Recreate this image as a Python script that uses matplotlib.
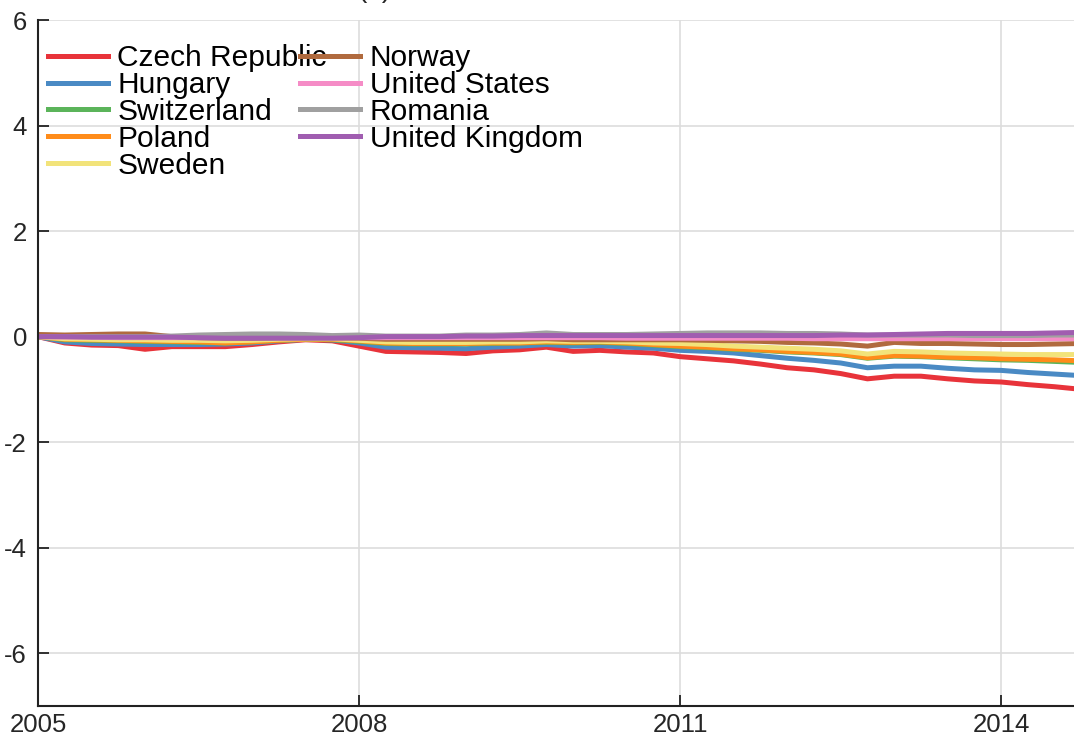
import numpy as np
import matplotlib
matplotlib.use("Agg")
import matplotlib.pyplot as plt

plt.rcParams['font.family'] = ['Liberation Sans', 'DejaVu Sans']

# quarterly observations, 2005Q1 ...
years = [2005 + 0.25 * i for i in range(40)]

czech = [0.0, -0.12, -0.16, -0.17, -0.24, -0.19, -0.19, -0.19, -0.15, -0.10,
         -0.06, -0.08, -0.18, -0.28, -0.29, -0.30, -0.32, -0.27, -0.25, -0.20,
         -0.28, -0.26, -0.29, -0.31, -0.38, -0.42, -0.46, -0.52, -0.59, -0.63,
         -0.70, -0.80, -0.75, -0.75, -0.80, -0.84, -0.86, -0.91, -0.95, -1.00]
hungary = [0.0, -0.10, -0.13, -0.14, -0.15, -0.15, -0.15, -0.14, -0.12, -0.08,
           -0.05, -0.06, -0.12, -0.20, -0.21, -0.22, -0.23, -0.20, -0.18, -0.15,
           -0.18, -0.17, -0.20, -0.22, -0.26, -0.28, -0.31, -0.36, -0.41, -0.45,
           -0.50, -0.59, -0.56, -0.56, -0.60, -0.63, -0.64, -0.68, -0.71, -0.74]
switzerland = [0.0, -0.06, -0.07, -0.08, -0.09, -0.10, -0.11, -0.12, -0.10, -0.07,
               -0.05, -0.06, -0.09, -0.13, -0.14, -0.14, -0.14, -0.13, -0.12, -0.11,
               -0.12, -0.11, -0.13, -0.16, -0.19, -0.21, -0.24, -0.26, -0.29, -0.31,
               -0.34, -0.41, -0.37, -0.38, -0.40, -0.42, -0.44, -0.45, -0.47, -0.49]
poland = [0.0, -0.05, -0.06, -0.07, -0.08, -0.09, -0.10, -0.12, -0.10, -0.07,
          -0.05, -0.05, -0.08, -0.12, -0.13, -0.13, -0.13, -0.12, -0.12, -0.10,
          -0.11, -0.10, -0.12, -0.15, -0.18, -0.20, -0.23, -0.25, -0.28, -0.30,
          -0.33, -0.40, -0.36, -0.37, -0.39, -0.40, -0.42, -0.43, -0.44, -0.46]
sweden = [0.0, -0.04, -0.05, -0.06, -0.06, -0.07, -0.07, -0.08, -0.07, -0.05,
          -0.04, -0.04, -0.07, -0.10, -0.11, -0.11, -0.11, -0.10, -0.10, -0.08,
          -0.09, -0.09, -0.10, -0.12, -0.13, -0.15, -0.18, -0.20, -0.22, -0.24,
          -0.27, -0.33, -0.28, -0.29, -0.31, -0.32, -0.33, -0.34, -0.34, -0.34]
norway = [0.04, 0.03, 0.04, 0.05, 0.05, 0.0, -0.02, -0.03, -0.03, -0.02,
          -0.02, -0.02, -0.03, -0.05, -0.05, -0.05, -0.05, -0.05, -0.05, -0.04,
          -0.06, -0.06, -0.06, -0.06, -0.06, -0.07, -0.08, -0.09, -0.11, -0.12,
          -0.14, -0.18, -0.11, -0.13, -0.13, -0.14, -0.15, -0.15, -0.14, -0.13]
united_states = [0.0, -0.01, -0.01, -0.02, -0.02, -0.02, -0.02, -0.02, -0.02, -0.02,
                 -0.02, -0.02, -0.02, -0.02, -0.02, -0.02, -0.02, -0.02, -0.02, -0.02,
                 -0.02, -0.02, -0.03, -0.03, -0.03, -0.03, -0.03, -0.03, -0.03, -0.04,
                 -0.04, -0.04, -0.04, -0.04, -0.04, -0.04, -0.04, -0.04, -0.04, -0.04]
romania = [0.0, 0.0, 0.0, 0.0, 0.0, 0.01, 0.03, 0.04, 0.05, 0.05,
           0.04, 0.02, 0.03, 0.01, 0.01, 0.01, 0.03, 0.03, 0.04, 0.07,
           0.04, 0.04, 0.04, 0.05, 0.06, 0.07, 0.07, 0.07, 0.06, 0.06,
           0.05, 0.03, 0.03, 0.03, 0.03, 0.02, 0.02, 0.02, 0.03, 0.03]
united_kingdom = [0.0, 0.0, -0.01, -0.01, -0.01, -0.01, -0.02, -0.03, -0.03, -0.03,
                  -0.03, -0.03, -0.02, 0.0, 0.0, 0.0, 0.01, 0.01, 0.02, 0.02,
                  0.02, 0.02, 0.02, 0.02, 0.02, 0.02, 0.02, 0.02, 0.02, 0.02,
                  0.03, 0.03, 0.04, 0.05, 0.06, 0.06, 0.06, 0.06, 0.07, 0.08]

names = ["Czech Republic", "Hungary", "Switzerland", "Poland", "Sweden",
         "Norway", "United States", "Romania", "United Kingdom"]
series = [czech, hungary, switzerland, poland, sweden,
          norway, united_states, romania, united_kingdom]
colors = ["#e8333a", "#4a8ac4", "#5bb45a", "#ff8c1a", "#f2e37a",
          "#b06a3e", "#f58cc6", "#a0a0a0", "#a05db0"]

xticks = [2005, 2008, 2011, 2014]
yticks = [-6, -4, -2, 0, 2, 4, 6]

fig = plt.figure(figsize=(10.74, 7.42), dpi=100)
ax = fig.add_axes([38 / 1074, 36 / 742, 1 - 38 / 1074, (706 - 20) / 742])

for name, vals, c in zip(names, series, colors):
    ax.plot(years, vals, color=c, lw=3.6, label=name, solid_joinstyle='round')

ax.set_xlim(2005, 2014.68)
ax.set_ylim(-7, 6)
ax.set_xticks(xticks)
ax.set_yticks(yticks)
ax.set_xticklabels([str(t) for t in xticks])
ax.set_yticklabels([str(t) for t in yticks])
ax.grid(True, color="#dddddd", lw=1.2)
ax.set_axisbelow(True)
for s in ["top", "right"]:
    ax.spines[s].set_visible(False)
for s in ["left", "bottom"]:
    ax.spines[s].set_color("#222222")
    ax.spines[s].set_linewidth(1.5)
ax.tick_params(direction="in", length=8, width=1.3, color="#222222",
               labelsize=18.5, labelcolor="#262626")
ax.tick_params(axis="x", pad=5)
ax.tick_params(axis="y", pad=8)

leg = ax.legend(ncol=2, loc="upper left", frameon=False, fontsize=21.5,
                handlelength=2.0, handletextpad=0.33, labelspacing=-0.04,
                columnspacing=-0.9, borderaxespad=0.0,
                bbox_to_anchor=(-0.002, 0.982))
for line in leg.get_lines():
    line.set_linewidth(3.6)

fig.text(374 / 1074, 1 - 3 / 742, "(a)", ha="center", va="bottom",
         fontsize=20, color="#262626")

fig.savefig("out.png", dpi=100)
